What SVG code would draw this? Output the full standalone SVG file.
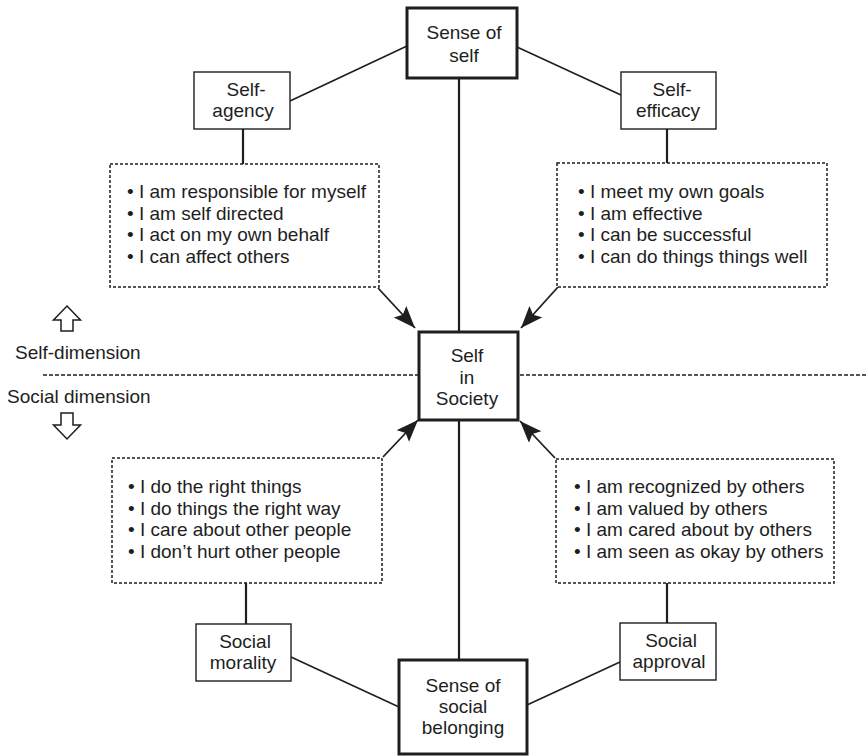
<svg xmlns="http://www.w3.org/2000/svg" width="866" height="756" viewBox="0 0 866 756">
  <style>
    text { font-family: "Liberation Sans", Arial, Helvetica, sans-serif; font-size: 19px; fill: #1e1e1e; }
    .c { text-anchor: middle; }
    .bold { fill: #fff; stroke: #1e1e1e; stroke-width: 3; }
    .thin { fill: #fff; stroke: #1e1e1e; stroke-width: 1.4; }
    .dots { fill: #fff; stroke: #1e1e1e; stroke-width: 1.5; stroke-dasharray: 3 2; }
    .link { stroke: #1e1e1e; stroke-width: 1.6; fill: none; }
    .stem { stroke: #1e1e1e; stroke-width: 2.2; fill: none; }
    .arrow { stroke: #1e1e1e; stroke-width: 1.8; fill: none; marker-end: url(#head); }
    .divider { stroke: #1e1e1e; stroke-width: 1.5; stroke-dasharray: 4 2; fill: none; }
    .hollow { fill: #fff; stroke: #1e1e1e; stroke-width: 1.5; stroke-linejoin: miter; }
  </style>
  <defs>
    <marker id="head" markerUnits="userSpaceOnUse" markerWidth="24" markerHeight="18" refX="22" refY="8.5" orient="auto">
      <path d="M0,0 L22,8.5 L0,17 L4,8.5 Z" fill="#1e1e1e"/>
    </marker>
  </defs>

  <rect width="866" height="756" fill="#fff"/>

  <!-- dimension divider and legend -->
  <g id="legend">
    <line class="divider" x1="43" y1="375" x2="419" y2="375"/>
    <line class="divider" x1="520" y1="375" x2="866" y2="375"/>
    <path class="hollow" d="M67,306 L80.5,320 L73,320 L73,331 L61,331 L61,320 L53.5,320 Z"/>
    <text x="15" y="359">Self-dimension</text>
    <text x="7" y="403">Social dimension</text>
    <path class="hollow" d="M61,413 L73,413 L73,425 L80.5,425 L67,439 L53.5,425 L61,425 Z"/>
  </g>

  <!-- connectors -->
  <g id="connectors">
    <line class="stem" x1="459" y1="78" x2="459" y2="332"/>
    <line class="stem" x1="459" y1="420" x2="459" y2="660"/>
    <line class="link" x1="290" y1="101" x2="407" y2="46"/>
    <line class="link" x1="517" y1="47" x2="621" y2="95"/>
    <line class="link" x1="291" y1="657" x2="399" y2="707"/>
    <line class="link" x1="620" y1="662" x2="527" y2="705"/>
    <line class="stem" x1="243" y1="129" x2="243" y2="164"/>
    <line class="stem" x1="667" y1="129" x2="667" y2="164"/>
    <line class="stem" x1="246" y1="583" x2="246" y2="624"/>
    <line class="stem" x1="667" y1="583" x2="667" y2="623"/>
    <line class="arrow" x1="378" y1="288" x2="415" y2="328"/>
    <line class="arrow" x1="558" y1="287" x2="521" y2="328"/>
    <line class="arrow" x1="383" y1="457" x2="418" y2="420"/>
    <line class="arrow" x1="555" y1="458" x2="520" y2="421"/>
  </g>

  <g id="sense-of-self">
    <rect class="bold" x="407" y="8" width="110" height="70"/>
    <text class="c" x="464" y="39">Sense of</text>
    <text class="c" x="464" y="62">self</text>
  </g>

  <g id="self-agency">
    <rect class="thin" x="194" y="72" width="96" height="57"/>
    <text class="c" x="246" y="96">Self-</text>
    <text class="c" x="243" y="117">agency</text>
  </g>

  <g id="self-efficacy">
    <rect class="thin" x="621" y="72" width="95" height="57"/>
    <text class="c" x="672" y="96">Self-</text>
    <text class="c" x="668" y="117">efficacy</text>
  </g>

  <g id="agency-items">
    <rect class="dots" x="110" y="164" width="269" height="123"/>
    <text x="127" y="198">• I am responsible for myself</text>
    <text x="127" y="220">• I am self directed</text>
    <text x="127" y="241">• I act on my own behalf</text>
    <text x="127" y="263">• I can affect others</text>
  </g>

  <g id="efficacy-items">
    <rect class="dots" x="557" y="163" width="270" height="124"/>
    <text x="578" y="198">• I meet my own goals</text>
    <text x="578" y="220">• I am effective</text>
    <text x="578" y="241">• I can be successful</text>
    <text x="578" y="263">• I can do things things well</text>
  </g>

  <g id="self-in-society">
    <rect class="bold" x="419" y="332" width="99" height="88"/>
    <text class="c" x="467" y="362">Self</text>
    <text class="c" x="467" y="384">in</text>
    <text class="c" x="467" y="405">Society</text>
  </g>

  <g id="morality-items">
    <rect class="dots" x="112" y="458" width="270" height="125"/>
    <text x="128" y="493">• I do the right things</text>
    <text x="128" y="515">• I do things the right way</text>
    <text x="128" y="536">• I care about other people</text>
    <text x="128" y="558">• I don’t hurt other people</text>
  </g>

  <g id="approval-items">
    <rect class="dots" x="556" y="459" width="278" height="124"/>
    <text x="574" y="493">• I am recognized by others</text>
    <text x="574" y="515">• I am valued by others</text>
    <text x="574" y="536">• I am cared about by others</text>
    <text x="574" y="558">• I am seen as okay by others</text>
  </g>

  <g id="social-morality">
    <rect class="thin" x="196" y="624" width="95" height="57"/>
    <text class="c" x="245" y="648">Social</text>
    <text class="c" x="243" y="669">morality</text>
  </g>

  <g id="social-approval">
    <rect class="thin" x="620" y="623" width="96" height="57"/>
    <text class="c" x="671" y="647">Social</text>
    <text class="c" x="669" y="668">approval</text>
  </g>

  <g id="sense-of-social-belonging">
    <rect class="bold" x="399" y="660" width="128" height="94"/>
    <text class="c" x="463" y="692">Sense of</text>
    <text class="c" x="463" y="713">social</text>
    <text class="c" x="463" y="734">belonging</text>
  </g>
</svg>
